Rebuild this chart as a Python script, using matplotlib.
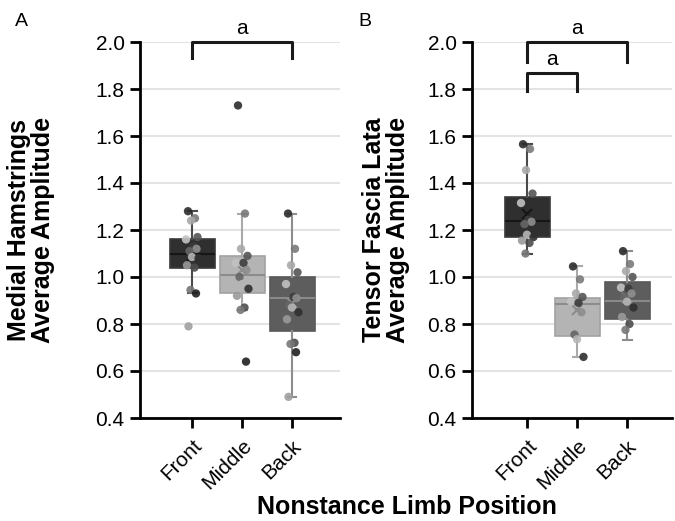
import numpy as np
import matplotlib
matplotlib.use("Agg")
import matplotlib.pyplot as plt

plt.rcParams['font.family'] = ['Liberation Sans', 'DejaVu Sans']

positions = ["Front", "Middle", "Back"]

# panel A: medial hamstrings, box summaries (low whisker, q1, median, q3, high whisker, mean)
mh_whislo = [0.93, 0.86, 0.49]
mh_q1 = [1.04, 0.93, 0.77]
mh_med = [1.10, 1.01, 0.91]
mh_q3 = [1.16, 1.09, 1.00]
mh_whishi = [1.28, 1.27, 1.27]
mh_mean = [1.09, 1.03, 0.89]

mh_front = [1.28, 1.25, 1.24, 1.17, 1.16, 1.13, 1.12, 1.11, 1.085, 1.08, 1.05, 1.04, 0.945, 0.93, 0.79]
mh_middle = [1.73, 1.27, 1.12, 1.09, 1.06, 1.06, 1.03, 1.00, 0.97, 0.95, 0.92, 0.87, 0.86, 0.64]
mh_back = [1.27, 1.12, 1.05, 1.02, 0.97, 0.915, 0.91, 0.88, 0.87, 0.85, 0.82, 0.72, 0.715, 0.68, 0.49]

# panel B: tensor fascia lata
tfl_whislo = [1.10, 0.66, 0.73]
tfl_q1 = [1.17, 0.75, 0.82]
tfl_med = [1.24, 0.885, 0.90]
tfl_q3 = [1.34, 0.91, 0.98]
tfl_whishi = [1.565, 1.045, 1.11]
tfl_mean = [1.27, 0.86, 0.91]

tfl_front = [1.565, 1.545, 1.455, 1.355, 1.315, 1.245, 1.235, 1.225, 1.18, 1.17, 1.155, 1.145, 1.10]
tfl_middle = [1.045, 0.99, 0.93, 0.915, 0.895, 0.89, 0.85, 0.755, 0.735, 0.66]
tfl_back = [1.11, 1.055, 1.025, 1.00, 0.955, 0.95, 0.93, 0.915, 0.895, 0.87, 0.83, 0.80, 0.775]

box_face = ['#2f2f2f', '#b4b4b4', '#5d5d5d']
box_edge = ['#3a3a3a', '#a2a2a2', '#595959']
med_col = ['#161616', '#8c8c8c', '#8a8a8a']
whisk_col = ['#4a4a4a', '#a9a9a9', '#8d8d8d']
dot_grays = ['#2b2b2b', '#7a7a7a', '#a9a9a9', '#555555', '#c2c2c2', '#3c3c3c',
             '#8e8e8e', '#666666', '#b5b5b5', '#303030', '#9a9a9a', '#4d4d4d',
             '#777777', '#202020', '#a0a0a0']
jitter = [-0.08, 0.06, -0.02, 0.11, -0.12, 0.03, 0.09, -0.05, 0.0, 0.13,
          -0.1, 0.05, -0.03, 0.08, -0.07]


def draw_panel(ax, whislo, q1, med, q3, whishi, mean, groups, xlim):
    stats = []
    for i in range(3):
        stats.append(dict(whislo=whislo[i], q1=q1[i], med=med[i], q3=q3[i],
                          whishi=whishi[i], mean=mean[i], fliers=[]))
    for i, st in enumerate(stats):
        ax.bxp([st], positions=[i], widths=0.9, patch_artist=True,
               showfliers=False, showmeans=True, capwidths=0.18,
               boxprops=dict(facecolor=box_face[i], edgecolor=box_edge[i], linewidth=1.2),
               medianprops=dict(color=med_col[i], linewidth=1.5),
               whiskerprops=dict(color=whisk_col[i], linewidth=1.5),
               capprops=dict(color=whisk_col[i], linewidth=1.5),
               meanprops=dict(marker='x', markeredgecolor=med_col[i], markersize=7,
                              markeredgewidth=1.5),
               zorder=2)
    for i, vals in enumerate(groups):
        xs = [i + jitter[k % len(jitter)] for k in range(len(vals))]
        cols = [dot_grays[k % len(dot_grays)] for k in range(len(vals))]
        ax.scatter(xs, vals, s=36, c=cols, alpha=0.9, linewidths=0, zorder=4)

    ax.set_xlim(*xlim)
    ax.set_ylim(0.4, 2.0)
    ax.set_yticks(np.arange(0.4, 2.01, 0.2))
    ax.set_yticklabels([f"{v:.1f}" for v in np.arange(0.4, 2.01, 0.2)])
    ax.set_xticks(range(3))
    ax.set_xticklabels(positions, rotation=45, ha='right', rotation_mode='anchor')
    ax.yaxis.grid(True, color='#e3e3e3', linewidth=1.5, zorder=0)
    ax.set_axisbelow(True)
    for s in ['top', 'right']:
        ax.spines[s].set_visible(False)
    for s in ['left', 'bottom']:
        ax.spines[s].set_linewidth(2)
    ax.tick_params(axis='both', labelsize=15, width=2, length=7, direction='out', pad=4)
    ax.tick_params(axis='x', pad=6)


def bracket(ax, x0, x1, top, leg, label):
    ax.plot([x0, x0, x1, x1], [leg, top, top, leg], color='#1a1a1a', lw=2.2,
            clip_on=False, zorder=5)
    ax.text((x0 + x1) / 2, top + 0.015, label, ha='center', va='bottom',
            fontsize=15, clip_on=False)


fig = plt.figure(figsize=(6.75, 5.21), dpi=100)
axA = fig.add_axes([140 / 675, 103 / 521, 200 / 675, 376 / 521])
axB = fig.add_axes([472 / 675, 103 / 521, 200 / 675, 376 / 521])

draw_panel(axA, mh_whislo, mh_q1, mh_med, mh_q3, mh_whishi, mh_mean,
           [mh_front, mh_middle, mh_back], (-1.04, 2.96))
draw_panel(axB, tfl_whislo, tfl_q1, tfl_med, tfl_q3, tfl_whishi, tfl_mean,
           [tfl_front, tfl_middle, tfl_back], (-1.1, 2.9))

bracket(axA, 0, 2, 2.0, 1.93, 'a')
bracket(axB, 0, 2, 2.0, 1.915, 'a')
bracket(axB, 0, 1, 1.87, 1.79, 'a')

axA.set_ylabel("Medial Hamstrings\nAverage Amplitude", fontsize=18,
               fontweight='bold', linespacing=1.0)
axA.yaxis.set_label_coords(-0.425, 0.5)
axB.set_ylabel("Tensor Fascia Lata\nAverage Amplitude", fontsize=18,
               fontweight='bold', linespacing=1.0)
axB.yaxis.set_label_coords(-0.31, 0.5)

fig.text(407 / 675, 1 - 507 / 521, "Nonstance Limb Position", fontsize=18,
         fontweight='bold', ha='center', va='center')
fig.text(21 / 675, 1 - 21 / 521, "A", fontsize=14, ha='center', va='center')
fig.text(365 / 675, 1 - 21 / 521, "B", fontsize=14, ha='center', va='center')

fig.savefig("out.png", dpi=100)
